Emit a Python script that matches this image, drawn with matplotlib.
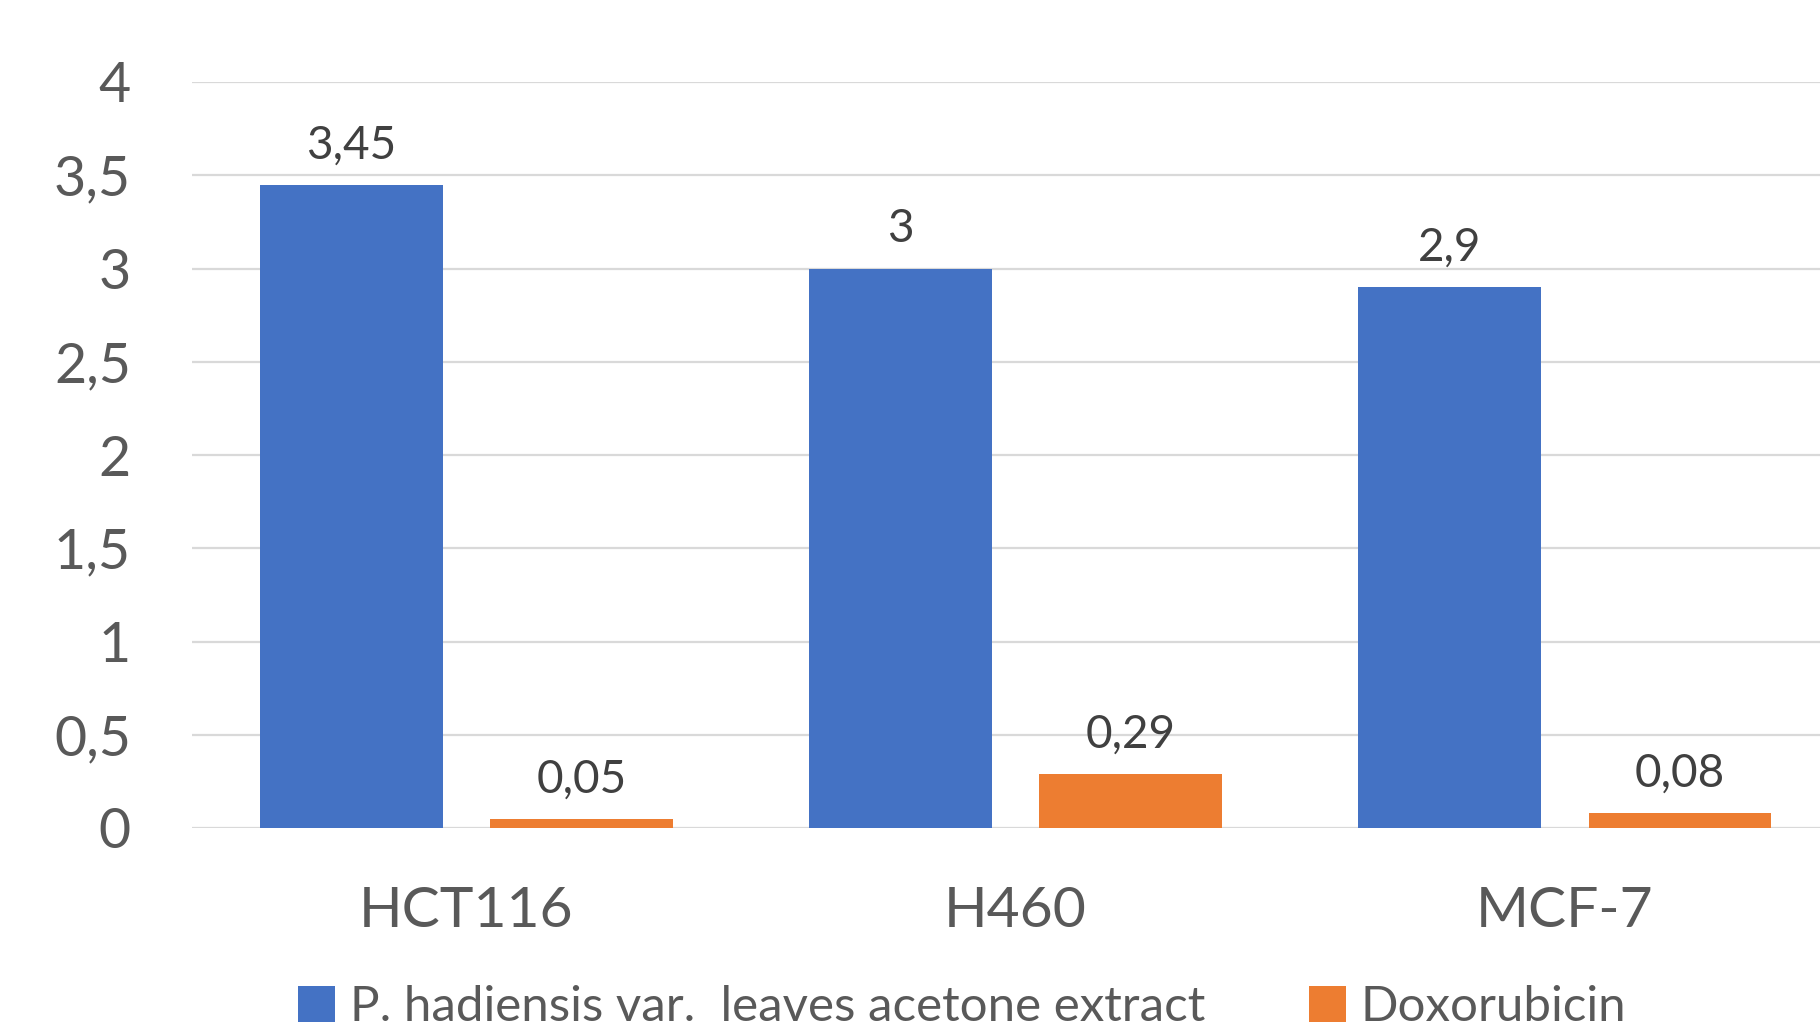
import matplotlib.pyplot as plt
import numpy as np

# Cell lines and IC50-type values for the two treatments
cell_lines = ['HCT116', 'H460', 'MCF-7']
extract_vals = [3.45, 3.0, 2.9]
doxo_vals = [0.05, 0.29, 0.08]
series_names = ['P. hadiensis var.  leaves acetone extract', 'Doxorubicin']
y_ticks = [0, 0.5, 1, 1.5, 2, 2.5, 3, 3.5, 4]

plt.rcParams['font.family'] = ['Lato', 'DejaVu Sans']

fig = plt.figure(figsize=(18.2, 10.28), dpi=100)
ax = fig.add_axes([192 / 1820, 1 - 828 / 1028, 1 - 192 / 1820, (828 - 82) / 1028])

x = np.arange(len(cell_lines))
w = 0.333
b1 = ax.bar(x - 0.21, extract_vals, w, color='#4472C4', label=series_names[0], zorder=3)
b2 = ax.bar(x + 0.21, doxo_vals, w, color='#ED7D31', label=series_names[1], zorder=3)

def fmt(v):
    return ('%g' % v).replace('.', ',')

for bars, vals in ((b1, extract_vals), (b2, doxo_vals)):
    ax.bar_label(bars, labels=[fmt(v) for v in vals], padding=13,
                 fontsize=33, color='#404040')

ax.set_ylim(0, 4)
ax.set_xlim(-0.5, 2.465)
ax.set_yticks(y_ticks)
ax.set_yticklabels([fmt(t) for t in y_ticks])
ax.set_xticks(x)
ax.set_xticklabels(cell_lines)
ax.tick_params(axis='y', length=0, pad=44, labelsize=40, labelcolor='#595959')
ax.tick_params(axis='x', length=0, pad=42, labelsize=41, labelcolor='#595959')
ax.grid(axis='y', color='#D9D9D9', linewidth=1.6, zorder=0)
for s in ax.spines.values():
    s.set_visible(False)

fig.legend(handles=[b1, b2], loc='center', bbox_to_anchor=(962 / 1820, 1 - 1007 / 1028),
           ncol=2, frameon=False, fontsize=35.5, labelcolor='#595959',
           handlelength=0.75, handleheight=0.75, handletextpad=0.3, columnspacing=2.1)

fig.savefig('out.png', dpi=100, facecolor='white')
